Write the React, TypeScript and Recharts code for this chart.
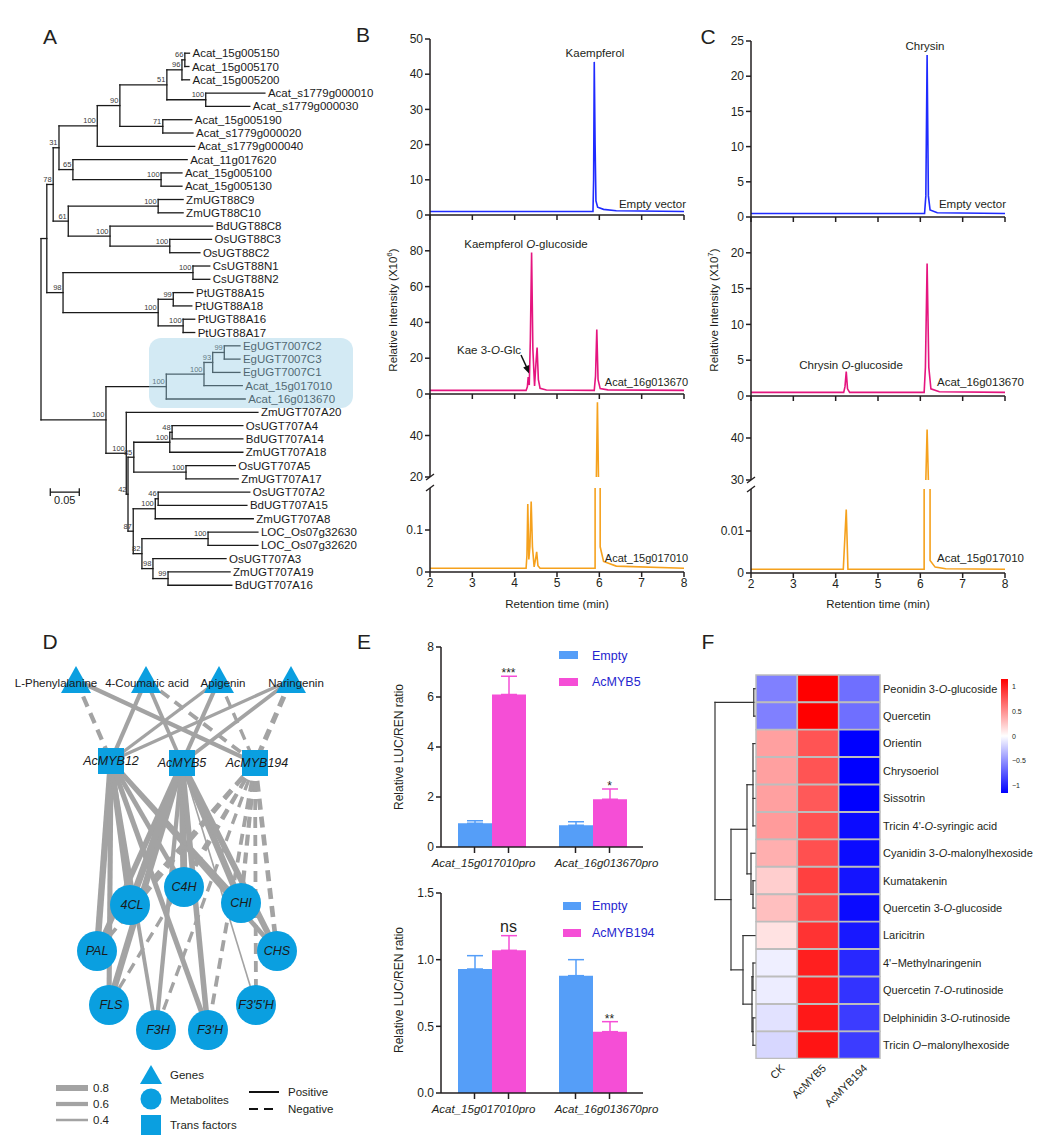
import React from 'react';
import {
  LineChart,
  Line,
  BarChart,
  Bar,
  ErrorBar,
  Cell,
  ScatterChart,
  Scatter,
  XAxis,
  YAxis,
  ReferenceLine,
  ReferenceDot,
} from 'recharts';

const FONT = '"Liberation Sans", Arial, Helvetica, sans-serif';
const INK = '#231f20';
const AXIS = { stroke: INK, strokeWidth: 1.5 };

/* ---------- A: UGT phylogeny (branch depths in substitutions/site) ---------- */
type TreeNode = { d: number; b?: string; name?: string; kids?: TreeNode[] };
const lf = (name: string, d: number): TreeNode => ({ name, d });
const cl = (d: number, b: string, ...kids: TreeNode[]): TreeNode => ({ d, b, kids });

const ugtTree = cl(0, '',
  cl(0.010, '',
    cl(0.021, '78',
      cl(0.031, '31',
        cl(0.097, '100',
          cl(0.136, '90',
            cl(0.217, '51',
              cl(0.243, '96',
                cl(0.248, '66', lf('Acat_15g005150', 0.256), lf('Acat_15g005170', 0.255)),
                lf('Acat_15g005200', 0.256)),
              cl(0.284, '100', lf('Acat_s1779g000010', 0.386), lf('Acat_s1779g000030', 0.360))),
            cl(0.210, '71', lf('Acat_15g005190', 0.260), lf('Acat_s1779g000020', 0.262))),
          lf('Acat_s1779g000040', 0.265)),
        cl(0.055, '65',
          lf('Acat_11g017620', 0.252),
          cl(0.207, '100', lf('Acat_15g005100', 0.243), lf('Acat_15g005130', 0.243)))),
      cl(0.047, '61',
        cl(0.202, '100', lf('ZmUGT88C9', 0.245), lf('ZmUGT88C10', 0.245)),
        cl(0.119, '100',
          lf('BdUGT88C8', 0.296),
          cl(0.222, '100', lf('OsUGT88C3', 0.294), lf('OsUGT88C2', 0.274))))),
    cl(0.038, '98',
      cl(0.262, '100', lf('CsUGT88N1', 0.291), lf('CsUGT88N2', 0.291)),
      cl(0.202, '100',
        cl(0.228, '99', lf('PtUGT88A15', 0.262), lf('PtUGT88A18', 0.260)),
        cl(0.245, '100', lf('PtUGT88A16', 0.265), lf('PtUGT88A17', 0.265))))),
  cl(0.112, '100',
    cl(0.216, '100',
      cl(0.281, '100',
        cl(0.296, '93',
          cl(0.316, '99', lf('EgUGT7007C2', 0.343), lf('EgUGT7007C3', 0.343)),
          lf('EgUGT7007C1', 0.343)),
        lf('Acat_15g017010', 0.347)),
      lf('Acat_16g013670', 0.352)),
    cl(0.147, '100',
      lf('ZmUGT707A20', 0.374),
      cl(0.150, '42',
        cl(0.160, '85',
          cl(0.222, '100',
            cl(0.226, '48', lf('OsUGT707A4', 0.348), lf('BdUGT707A14', 0.348)),
            lf('ZmUGT707A18', 0.348)),
          cl(0.250, '100', lf('OsUGT707A5', 0.335), lf('ZmUGT707A17', 0.340))),
        cl(0.159, '87',
          cl(0.197, '100',
            cl(0.202, '46', lf('OsUGT707A2', 0.360), lf('BdUGT707A15', 0.355)),
            lf('ZmUGT707A8', 0.366)),
          cl(0.174, '82',
            cl(0.288, '100', lf('LOC_Os07g32630', 0.374), lf('LOC_Os07g32620', 0.374)),
            cl(0.193, '98',
              lf('OsUGT707A3', 0.319),
              cl(0.219, '99', lf('ZmUGT707A19', 0.326), lf('BdUGT707A16', 0.329)))))))));

const SCALE_BAR = 0.05;

/* ---------- B & C: chromatograms [retention time, intensity] ---------- */
const retentionTicks = [2, 3, 4, 5, 6, 7, 8];

const kaempferolEmpty: [number, number][] = [
  [2, 1], [5.85, 1], [5.865, 10], [5.88, 43.5], [5.9, 20], [5.92, 4], [5.96, 2.2],
  [6.1, 1.6], [6.4, 1.2], [8, 1],
];
const kaempferol16g: [number, number][] = [
  [2, 2], [4.27, 2], [4.3, 4], [4.32, 9.5], [4.345, 5], [4.37, 30], [4.4, 79], [4.43, 25],
  [4.47, 4.5], [4.505, 18], [4.53, 26], [4.56, 8], [4.6, 3.2], [4.75, 2.2], [5.88, 2],
  [5.91, 10], [5.94, 36], [5.97, 8], [6.02, 3], [6.2, 2.3], [8, 2],
];
const kaempferol15g: [number, number][] = [
  [2, 0.009], [4.27, 0.009], [4.29, 0.04], [4.31, 0.162], [4.335, 0.03], [4.36, 0.06],
  [4.39, 0.168], [4.42, 0.06], [4.46, 0.012], [4.5, 0.035], [4.52, 0.048], [4.55, 0.015],
  [4.6, 0.009], [5.9, 0.009], [5.93, 20], [5.955, 56], [5.98, 20], [6.02, 0.06],
  [6.1, 0.025], [6.4, 0.014], [8, 0.009],
];
const chrysinEmpty: [number, number][] = [
  [2, 0.5], [6.1, 0.5], [6.13, 3], [6.16, 23], [6.19, 3], [6.23, 1], [6.4, 0.6], [8, 0.5],
];
const chrysin16g: [number, number][] = [
  [2, 0.5], [4.19, 0.5], [4.22, 1.3], [4.25, 3.4], [4.28, 1], [4.33, 0.5], [6.09, 0.5],
  [6.12, 4], [6.16, 18.5], [6.2, 4], [6.25, 1], [6.45, 0.6], [8, 0.5],
];
const chrysin15g: [number, number][] = [
  [2, 0.0009], [4.18, 0.0009], [4.25, 0.0151], [4.29, 0.0009], [6.09, 0.0009], [6.13, 30],
  [6.16, 42], [6.19, 30], [6.23, 0.003], [6.35, 0.0014], [6.6, 0.001], [8, 0.0009],
];

const TRACE_BLUE = '#1f2bff';
const TRACE_PINK = '#e5157f';
const TRACE_ORANGE = '#f5a11d';

const bSegs = [
  { top: 39, height: 176, domain: [0, 50], ticks: [0, 10, 20, 30, 40, 50], data: kaempferolEmpty, color: TRACE_BLUE, axis: 'ticks' },
  { top: 215, height: 179, domain: [0, 100], ticks: [0, 20, 40, 60, 80], data: kaempferol16g, color: TRACE_PINK, axis: 'ticks' },
  { top: 394, height: 83, domain: [20, 60], ticks: [20, 40], data: kaempferol15g, color: TRACE_ORANGE, axis: 'none' },
  { top: 488, height: 84, domain: [0, 0.2], ticks: [0, 0.1], data: kaempferol15g, color: TRACE_ORANGE, axis: 'labels' },
];
const cSegs = [
  { top: 41, height: 176, domain: [0, 25], ticks: [0, 5, 10, 15, 20, 25], data: chrysinEmpty, color: TRACE_BLUE, axis: 'ticks' },
  { top: 217, height: 179, domain: [0, 25], ticks: [0, 5, 10, 15, 20], data: chrysin16g, color: TRACE_PINK, axis: 'ticks' },
  { top: 396, height: 84, domain: [30, 50], ticks: [30, 40], data: chrysin15g, color: TRACE_ORANGE, axis: 'none' },
  { top: 489, height: 84, domain: [0, 0.02], ticks: [0, 0.01], data: chrysin15g, color: TRACE_ORANGE, axis: 'labels' },
];

/* ---------- D: correlation network ---------- */
const networkNodes = [
  { id: 'L-Phenylalanine', kind: 'gene', x: 76, y: 30, dx: -20 },
  { id: '4-Coumaric acid', kind: 'gene', x: 146, y: 30, dx: 1 },
  { id: 'Apigenin', kind: 'gene', x: 219, y: 30, dx: 4 },
  { id: 'Naringenin', kind: 'gene', x: 291, y: 30, dx: 5 },
  { id: 'AcMYB12', kind: 'tf', x: 111, y: 111, dx: 0 },
  { id: 'AcMYB5', kind: 'tf', x: 182, y: 113, dx: 0 },
  { id: 'AcMYB194', kind: 'tf', x: 255, y: 113, dx: 2 },
  { id: '4CL', kind: 'met', x: 130, y: 255, dx: 2 },
  { id: 'C4H', kind: 'met', x: 184, y: 237, dx: 0 },
  { id: 'CHI', kind: 'met', x: 241, y: 253, dx: 0 },
  { id: 'PAL', kind: 'met', x: 97, y: 301, dx: 0 },
  { id: 'CHS', kind: 'met', x: 277, y: 301, dx: 0 },
  { id: 'FLS', kind: 'met', x: 109, y: 355, dx: 2 },
  { id: "F3'5'H", kind: 'met', x: 256, y: 355, dx: 0 },
  { id: 'F3H', kind: 'met', x: 156, y: 380, dx: 2 },
  { id: "F3'H", kind: 'met', x: 208, y: 380, dx: 2 },
];
// [source, target, |r|, negative]
const networkEdges: [string, string, number, boolean][] = [
  ['L-Phenylalanine', 'AcMYB12', 0.6, true],
  ['L-Phenylalanine', 'AcMYB194', 0.6, false],
  ['4-Coumaric acid', 'AcMYB12', 0.6, false],
  ['4-Coumaric acid', 'AcMYB5', 0.55, false],
  ['4-Coumaric acid', 'AcMYB194', 0.55, true],
  ['Apigenin', 'AcMYB12', 0.5, false],
  ['Apigenin', 'AcMYB5', 0.6, false],
  ['Apigenin', 'AcMYB194', 0.5, true],
  ['Naringenin', 'AcMYB12', 0.5, false],
  ['Naringenin', 'AcMYB5', 0.55, false],
  ['Naringenin', 'AcMYB194', 0.7, true],
  ['AcMYB12', 'PAL', 0.85, false],
  ['AcMYB12', 'FLS', 0.7, false],
  ['AcMYB12', '4CL', 0.8, false],
  ['AcMYB12', 'C4H', 0.65, false],
  ['AcMYB12', 'F3H', 0.55, false],
  ['AcMYB12', "F3'H", 0.7, false],
  ['AcMYB12', 'CHI', 0.6, false],
  ['AcMYB12', 'CHS', 0.65, false],
  ['AcMYB5', 'PAL', 0.75, false],
  ['AcMYB5', 'FLS', 0.85, false],
  ['AcMYB5', '4CL', 0.9, false],
  ['AcMYB5', 'C4H', 0.9, false],
  ['AcMYB5', 'CHI', 0.85, false],
  ['AcMYB5', 'CHS', 0.8, false],
  ['AcMYB5', 'F3H', 0.6, false],
  ['AcMYB5', "F3'H", 0.75, false],
  ['AcMYB5', "F3'5'H", 0.3, false],
  ['AcMYB194', 'PAL', 0.55, true],
  ['AcMYB194', '4CL', 0.6, true],
  ['AcMYB194', 'C4H', 0.5, true],
  ['AcMYB194', 'CHI', 0.6, true],
  ['AcMYB194', 'CHS', 0.65, true],
  ['AcMYB194', 'FLS', 0.5, true],
  ['AcMYB194', 'F3H', 0.5, true],
  ['AcMYB194', "F3'H", 0.55, true],
  ['AcMYB194', "F3'5'H", 0.55, true],
];
const EDGE = '#a3a3a3';
const NODE = '#0a9fe0';
const edgeWidth = (r: number) => 2.5 + (r - 0.4) * 8.75;

/* ---------- E: dual luciferase ---------- */
const promoters = ['Acat_15g017010pro', 'Acat_16g013670pro'];
const lucEmptyA = [0.95, 0.87];
const lucEmptyAErr = [0.1, 0.14];
const lucMyb5 = [6.1, 1.91];
const lucMyb5Err = [0.73, 0.41];
const lucMyb5Sig = ['***', '*'];
const lucEmptyB = [0.93, 0.88];
const lucEmptyBErr = [0.1, 0.12];
const lucMyb194 = [1.07, 0.46];
const lucMyb194Err = [0.11, 0.075];
const lucMyb194Sig = ['ns', '**'];
const LUC_BLUE = '#559ef8';
const LUC_PINK = '#f54ed6';

/* ---------- F: heatmap ---------- */
const metabolites = [
  'Peonidin 3-O-glucoside', 'Quercetin', 'Orientin', 'Chrysoeriol', 'Sissotrin',
  "Tricin 4'-O-syringic acid", 'Cyanidin 3-O-malonylhexoside', 'Kumatakenin',
  'Quercetin 3-O-glucoside', 'Laricitrin', "4'\u2212Methylnaringenin",
  'Quercetin 7-O-rutinoside', 'Delphinidin 3-O-rutinoside', 'Tricin O\u2212malonylhexoside',
];
const heatSamples = ['CK', 'AcMYB5', 'AcMYB194'];
const zCK = [-0.575, -0.575, 0.43, 0.43, 0.43, 0.45, 0.36, 0.22, 0.29, 0.13, -0.07, -0.08, -0.13, -0.18];
const zMYB5 = [1.15, 1.15, 0.77, 0.77, 0.75, 0.78, 0.79, 0.86, 0.83, 0.92, 1.01, 1.01, 1.04, 1.06];
const zMYB194 = [-0.65, -0.65, -1.15, -1.15, -1.15, -1.1, -1.1, -1.06, -1.1, -1.04, -0.97, -0.92, -0.88, -0.88];
const colorbarTicks = [1, 0.5, 0, -0.5, -1];
const Z_MAX = 1.15;

const mL = (i: number) => lf(metabolites[i], 0);
const metaboliteTree = cl(1.0, '',
  cl(0.03, '', mL(0), mL(1)),
  cl(0.6, '',
    cl(0.2, '',
      cl(0.05, '', mL(2), mL(3), mL(4), mL(5)),
      cl(0.1, '', mL(6), cl(0.05, '', mL(7), mL(8)))),
    cl(0.3, '',
      mL(9),
      cl(0.075, '', cl(0.05, '', mL(10), mL(11)), cl(0.05, '', mL(12), mL(13))))));

/* ---------- helpers ---------- */
function layoutTree(root: TreeNode) {
  const leaves: any[] = [];
  const nodes: any[] = [];
  const segs: any[] = [];
  let idx = 0;
  const walk = (n: TreeNode): number => {
    if (!n.kids) {
      const y = idx++;
      leaves.push({ x: n.d, y, name: n.name });
      return y;
    }
    const ys = n.kids.map(walk);
    const y = (ys[0] + ys[ys.length - 1]) / 2;
    segs.push({ x1: n.d, y1: ys[0], x2: n.d, y2: ys[ys.length - 1] });
    n.kids.forEach((k, i) => segs.push({ x1: n.d, y1: ys[i], x2: k.d, y2: ys[i] }));
    if (n.b) nodes.push({ x: n.d, y, b: n.b });
    return y;
  };
  walk(root);
  return { leaves, nodes, segs };
}

const heatColor = (v: number) => {
  const t = Math.max(-1, Math.min(1, v / Z_MAX));
  const c = Math.round(255 * (1 - Math.abs(t)));
  return t >= 0 ? `rgb(255,${c},${c})` : `rgb(${c},${c},255)`;
};

const italicO = (label: string) =>
  label.split(/(\bO(?=[-\u2212]))/).map((s, i) =>
    s === 'O' ? <tspan key={i} fontStyle="italic">O</tspan> : <tspan key={i}>{s}</tspan>
  );

/* ---------- A ---------- */
const ugtLayout = layoutTree(ugtTree);

const LeafLabel = (p: any) => (
  <text x={p.cx + 3} y={p.cy} dy="0.35em" fontSize={11.5} fill="#1a1a1a" fontFamily={FONT}>
    {p.payload.name}
  </text>
);
const BootLabel = (p: any) => (
  <text x={p.cx - 1.5} y={p.cy - 2.5} textAnchor="end" fontSize={7.5} fill="#3a3a3a" fontFamily={FONT}>
    {p.payload.b}
  </text>
);

function PanelA() {
  const { leaves, nodes, segs } = ugtLayout;
  const sx = 0.016;
  const sy = 33;
  return (
    <>
      <div style={{ position: 'absolute', left: 0, top: 0 }}>
        <ScatterChart width={390} height={600} margin={{ top: 0, right: 0, bottom: 0, left: 0 }}>
          <XAxis type="number" dataKey="x" domain={[-0.0707, 0.6017]} hide allowDataOverflow />
          <YAxis type="number" dataKey="y" domain={[-4, 41.11]} reversed hide allowDataOverflow />
          {segs.map((s, i) => (
            <ReferenceLine
              key={i}
              segment={[{ x: s.x1, y: s.y1 }, { x: s.x2, y: s.y2 }]}
              stroke="#1a1a1a"
              strokeWidth={1.3}
              strokeLinecap="square"
              ifOverflow="visible"
            />
          ))}
          <ReferenceLine segment={[{ x: sx, y: sy }, { x: sx + SCALE_BAR, y: sy }]} stroke="#1a1a1a" strokeWidth={1.3} ifOverflow="visible" />
          <ReferenceLine segment={[{ x: sx, y: sy - 0.3 }, { x: sx, y: sy + 0.3 }]} stroke="#1a1a1a" strokeWidth={1.3} ifOverflow="visible" />
          <ReferenceLine segment={[{ x: sx + SCALE_BAR, y: sy - 0.3 }, { x: sx + SCALE_BAR, y: sy + 0.3 }]} stroke="#1a1a1a" strokeWidth={1.3} ifOverflow="visible" />
          <ReferenceDot
            x={sx + SCALE_BAR / 2}
            y={sy}
            r={0}
            ifOverflow="visible"
            shape={(p: any) => (
              <text x={p.cx} y={p.cy + 12} textAnchor="middle" fontSize={11} fill="#1a1a1a" fontFamily={FONT}>
                {String(SCALE_BAR)}
              </text>
            )}
          />
          <Scatter data={leaves} shape={LeafLabel} isAnimationActive={false} />
          <Scatter data={nodes} shape={BootLabel} isAnimationActive={false} />
        </ScatterChart>
      </div>
      <div
        style={{
          position: 'absolute',
          left: 149,
          top: 338,
          width: 204,
          height: 70,
          borderRadius: 12,
          background: 'rgba(150, 205, 228, 0.42)',
        }}
      />
    </>
  );
}

/* ---------- B / C ---------- */
function Trace({ left, top, height, domain, ticks, data, color, axis }: any) {
  const padL = 60;
  const padT = 8;
  const padR = 14;
  const padB = axis === 'none' ? 8 : 0;
  const width = 254;
  const axisH = axis === 'labels' ? 24 : axis === 'ticks' ? 6 : 0;
  const rows = data.map(([t, v]: [number, number]) => ({ t, v }));
  return (
    <div style={{ position: 'absolute', left: left - padL, top: top - padT }}>
      <LineChart
        width={width + padL + padR}
        height={height + padT + axisH + padB}
        data={rows}
        margin={{ top: padT, right: padR, bottom: padB, left: 0 }}
      >
        <XAxis
          type="number"
          dataKey="t"
          domain={[2, 8]}
          ticks={retentionTicks}
          interval={0}
          hide={axis === 'none'}
          height={axisH}
          tickSize={5}
          tickMargin={1}
          axisLine={AXIS}
          tickLine={AXIS}
          tick={{ fontSize: 12, fill: INK, fontFamily: FONT }}
          tickFormatter={axis === 'labels' ? (v: number) => String(v) : () => ''}
          allowDataOverflow
        />
        <YAxis
          type="number"
          domain={domain}
          ticks={ticks}
          interval={0}
          width={padL}
          tickSize={5}
          tickMargin={2}
          axisLine={AXIS}
          tickLine={AXIS}
          tick={{ fontSize: 12, fill: INK, fontFamily: FONT }}
          allowDataOverflow
        />
        <Line type="linear" dataKey="v" stroke={color} strokeWidth={1.6} dot={false} isAnimationActive={false} />
      </LineChart>
    </div>
  );
}

function ChromStack({ left, segs }: { left: number; segs: any[] }) {
  return (
    <>
      {segs.map((s, i) => (
        <Trace key={i} left={left} {...s} />
      ))}
    </>
  );
}

/* ---------- D ---------- */
const nodeById: Record<string, any> = Object.fromEntries(networkNodes.map((n) => [n.id, n]));

const NetworkNode = (p: any) => {
  const { cx, cy, payload: n } = p;
  let mark;
  if (n.kind === 'gene') {
    mark = <polygon points={`${cx},${cy - 14} ${cx - 15},${cy + 13} ${cx + 15},${cy + 13}`} fill={NODE} />;
  } else if (n.kind === 'tf') {
    mark = <rect x={cx - 13} y={cy - 13} width={26} height={26} fill={NODE} />;
  } else {
    mark = <circle cx={cx} cy={cy} r={20} fill={NODE} />;
  }
  return (
    <g>
      {mark}
      <text
        x={cx + (n.dx || 0)}
        y={n.kind === 'gene' ? cy + 3 : cy}
        dy="0.35em"
        textAnchor="middle"
        fontSize={n.kind === 'gene' ? 11.5 : 12.5}
        fontStyle={n.kind === 'gene' ? 'normal' : 'italic'}
        fill="#1a1a1a"
        fontFamily={FONT}
      >
        {n.id}
      </text>
    </g>
  );
};

function PanelD() {
  return (
    <div style={{ position: 'absolute', left: 0, top: 650 }}>
      <ScatterChart width={360} height={410} margin={{ top: 0, right: 0, bottom: 0, left: 0 }}>
        <XAxis type="number" dataKey="x" domain={[0, 360]} hide />
        <YAxis type="number" dataKey="y" domain={[0, 410]} reversed hide />
        {networkEdges.map(([a, b, r, neg], i) => (
          <Scatter
            key={i}
            data={[nodeById[a], nodeById[b]]}
            line={{ stroke: EDGE, strokeWidth: edgeWidth(r), strokeDasharray: neg ? '11 7' : 'none' }}
            shape={() => <g />}
            isAnimationActive={false}
          />
        ))}
        <Scatter data={networkNodes} shape={NetworkNode} isAnimationActive={false} />
      </ScatterChart>
    </div>
  );
}

/* ---------- E ---------- */
const promoterLabelShift = [-8, 14];

const PromoterTick = (p: any) => {
  const { x, y, payload, index } = p;
  return (
    <g>
      <line x1={x - 17} y1={y - 6} x2={x - 17} y2={y} stroke={INK} strokeWidth={1.5} />
      <line x1={x + 17} y1={y - 6} x2={x + 17} y2={y} stroke={INK} strokeWidth={1.5} />
      <text
        x={x + (promoterLabelShift[index] ?? 0)}
        y={y + 14}
        textAnchor="middle"
        fontStyle="italic"
        fontSize={11.5}
        fill={INK}
        fontFamily={FONT}
      >
        {payload.value}
      </text>
    </g>
  );
};

function LucChart({ top, domain, ticks, fmt, empty, emptyErr, tf, tfErr, sig }: any) {
  const rows = promoters.map((name, i) => ({
    name,
    empty: empty[i],
    emptyErr: [0, emptyErr[i]],
    tf: tf[i],
    tfErr: [0, tfErr[i]],
  }));
  return (
    <div style={{ position: 'absolute', left: 360, top }}>
      <BarChart
        width={330}
        height={247}
        data={rows}
        margin={{ top: 17, right: 47, bottom: 0, left: 21 }}
        barGap={0}
        barSize={34}
      >
        <XAxis
          dataKey="name"
          height={30}
          axisLine={AXIS}
          tickLine={false}
          tickSize={6}
          tickMargin={0}
          interval={0}
          tick={PromoterTick}
        />
        <YAxis
          domain={domain}
          ticks={ticks}
          interval={0}
          width={60}
          tickFormatter={fmt}
          axisLine={AXIS}
          tickLine={AXIS}
          tickSize={5}
          tickMargin={2}
          tick={{ fontSize: 12, fill: INK, fontFamily: FONT }}
          allowDataOverflow
        />
        <Bar dataKey="empty" fill={LUC_BLUE} isAnimationActive={false}>
          <ErrorBar dataKey="emptyErr" width={8} stroke={LUC_BLUE} strokeWidth={1.5} direction="y" />
        </Bar>
        <Bar dataKey="tf" fill={LUC_PINK} isAnimationActive={false}>
          <ErrorBar dataKey="tfErr" width={8} stroke={LUC_PINK} strokeWidth={1.5} direction="y" />
        </Bar>
        {rows.map((r, i) => (
          <ReferenceDot
            key={i}
            x={r.name}
            y={r.tf + tfErr[i]}
            r={0}
            ifOverflow="visible"
            shape={(p: any) => (
              <text
                x={p.cx + 17}
                y={sig[i] === 'ns' ? p.cy - 4 : p.cy + 1}
                textAnchor="middle"
                fontSize={sig[i] === 'ns' ? 16 : 12}
                fill={INK}
                fontFamily={FONT}
              >
                {sig[i]}
              </text>
            )}
          />
        ))}
      </BarChart>
    </div>
  );
}

/* ---------- F ---------- */
const heatRows = metabolites.map((name) => ({ name, CK: 1, AcMYB5: 1, AcMYB194: 1 }));
const heatZ = [zCK, zMYB5, zMYB194];
const dendroLayout = layoutTree(metaboliteTree);

const MetaboliteTick = (p: any) => (
  <text x={p.x} y={p.y} dy="0.35em" fontSize={11} fill={INK} fontFamily={FONT} style={{ whiteSpace: 'pre' }}>
    {italicO(String(p.payload.value))}
  </text>
);

function PanelF() {
  return (
    <>
      <div style={{ position: 'absolute', left: 700, top: 660 }}>
        <BarChart
          layout="vertical"
          width={338}
          height={399}
          data={heatRows}
          margin={{ top: 15, right: 8, bottom: 0, left: 56 }}
          barCategoryGap={0}
          barGap={0}
        >
          <XAxis type="number" domain={[0, 3]} hide />
          <YAxis
            type="category"
            dataKey="name"
            orientation="right"
            width={150}
            axisLine={false}
            tickLine={false}
            tickSize={0}
            tickMargin={3}
            interval={0}
            tick={MetaboliteTick}
          />
          {heatSamples.map((s, ci) => (
            <Bar key={s} dataKey={s} stackId="z" isAnimationActive={false}>
              {heatRows.map((_, ri) => (
                <Cell key={ri} fill={heatColor(heatZ[ci][ri])} stroke="#bdbdbd" strokeWidth={1.5} />
              ))}
            </Bar>
          ))}
        </BarChart>
      </div>
      <div style={{ position: 'absolute', left: 700, top: 660 }}>
        <ScatterChart width={60} height={399} margin={{ top: 15, right: 0, bottom: 0, left: 0 }}>
          <XAxis type="number" dataKey="x" domain={[-0.125, 1.375]} reversed hide />
          <YAxis type="number" dataKey="y" domain={[-0.5, 13.5]} reversed hide />
          {dendroLayout.segs.map((s, i) => (
            <ReferenceLine
              key={i}
              segment={[{ x: s.x1, y: s.y1 }, { x: s.x2, y: s.y2 }]}
              stroke="#333"
              strokeWidth={1.2}
              strokeLinecap="square"
              ifOverflow="visible"
            />
          ))}
          <Scatter data={dendroLayout.leaves} shape={() => <g />} isAnimationActive={false} />
        </ScatterChart>
      </div>
    </>
  );
}

/* ---------- text and legends ---------- */
function Overlay() {
  const heatLeft = 756;
  const cellW = 124 / 3;
  const cbTop = 679;
  const cbH = 114;
  const cbY = (v: number) => cbTop + ((Z_MAX - v) / (2 * Z_MAX)) * cbH;
  const t = (x: number, y: number, s: any, size = 11.5, anchor = 'start', extra: any = {}) => (
    <text x={x} y={y} fontSize={size} textAnchor={anchor} dominantBaseline="central" fill={INK} {...extra}>
      {s}
    </text>
  );
  return (
    <svg
      width={1038}
      height={1147}
      style={{ position: 'absolute', left: 0, top: 0, pointerEvents: 'none', fontFamily: FONT }}
    >
      <defs>
        <linearGradient id="zbar" x1="0" y1="0" x2="0" y2="1">
          <stop offset="0" stopColor="#ff0000" />
          <stop offset="0.5" stopColor="#ffffff" />
          <stop offset="1" stopColor="#0000ff" />
        </linearGradient>
      </defs>

      {/* panel letters */}
      {t(50, 36, 'A', 21, 'middle')}
      {t(363, 34, 'B', 21, 'middle')}
      {t(708, 36, 'C', 21, 'middle')}
      {t(50, 641, 'D', 21, 'middle')}
      {t(364, 641, 'E', 21, 'middle')}
      {t(708, 641, 'F', 21, 'middle')}

      {/* B */}
      {t(595, 53, 'Kaempferol', 11.5, 'middle')}
      {t(686, 204, 'Empty vector', 11.5, 'end')}
      {t(526, 244, <>Kaempferol <tspan fontStyle="italic">O</tspan>-glucoside</>, 11.5, 'middle')}
      {t(489, 350, <>Kae 3-<tspan fontStyle="italic">O</tspan>-Glc</>, 11.5, 'middle')}
      <line x1={521} y1={355} x2={527} y2={368} stroke="#111" strokeWidth={1.5} />
      <polygon points="529,373.5 523.2,367.5 529.2,365" fill="#111" />
      {t(688, 382, 'Acat_16g013670', 11, 'end')}
      {t(688, 558, 'Acat_15g017010', 11, 'end')}
      <text x={0} y={0} fontSize={11.5} textAnchor="middle" dominantBaseline="central" fill={INK} transform="translate(393,310) rotate(-90)">
        Relative Intensity (X10<tspan fontSize={8} dy={-4}>6</tspan><tspan dy={4}>)</tspan>
      </text>
      {t(557, 604, 'Retention time (min)', 11.5, 'middle')}
      <line x1={426} y1={480} x2={434} y2={474} stroke={INK} strokeWidth={1.3} />
      <line x1={426} y1={491} x2={434} y2={485} stroke={INK} strokeWidth={1.3} />

      {/* C */}
      {t(925, 46, 'Chrysin', 11.5, 'middle')}
      {t(1006, 204, 'Empty vector', 11.5, 'end')}
      {t(851, 365, <>Chrysin <tspan fontStyle="italic">O</tspan>-glucoside</>, 11.5, 'middle')}
      {t(937, 382, 'Acat_16g013670', 11.5, 'start')}
      {t(937, 558, 'Acat_15g017010', 11.5, 'start')}
      <text x={0} y={0} fontSize={11.5} textAnchor="middle" dominantBaseline="central" fill={INK} transform="translate(714,310) rotate(-90)">
        Relative Intensity (X10<tspan fontSize={8} dy={-4}>7</tspan><tspan dy={4}>)</tspan>
      </text>
      {t(878, 604, 'Retention time (min)', 11.5, 'middle')}
      <line x1={747} y1={483} x2={755} y2={477} stroke={INK} strokeWidth={1.3} />
      <line x1={747} y1={492} x2={755} y2={486} stroke={INK} strokeWidth={1.3} />

      {/* D legend */}
      <line x1={56} y1={1088} x2={88} y2={1088} stroke={EDGE} strokeWidth={edgeWidth(0.8)} />
      <line x1={56} y1={1104} x2={88} y2={1104} stroke={EDGE} strokeWidth={edgeWidth(0.6)} />
      <line x1={56} y1={1120} x2={88} y2={1120} stroke={EDGE} strokeWidth={edgeWidth(0.4)} />
      {t(93, 1088, '0.8')}
      {t(93, 1104, '0.6')}
      {t(93, 1120, '0.4')}
      <polygon points="151,1065 140,1084 162,1084" fill={NODE} />
      <circle cx={151} cy={1099} r={10.5} fill={NODE} />
      <rect x={141} y={1115} width={20} height={20} fill={NODE} />
      {t(170, 1075, 'Genes')}
      {t(170, 1100, 'Metabolites')}
      {t(170, 1125, 'Trans factors')}
      <line x1={249} y1={1092} x2={279} y2={1092} stroke="#111" strokeWidth={2} />
      <line x1={249} y1={1109} x2={279} y2={1109} stroke="#111" strokeWidth={2} strokeDasharray="9 6" />
      {t(288, 1092, 'Positive')}
      {t(288, 1109, 'Negative')}

      {/* E */}
      <text x={0} y={0} fontSize={12} textAnchor="middle" dominantBaseline="central" fill={INK} transform="translate(399,747) rotate(-90)">
        Relative LUC/REN ratio
      </text>
      <text x={0} y={0} fontSize={12} textAnchor="middle" dominantBaseline="central" fill={INK} transform="translate(399,990) rotate(-90)">
        Relative LUC/REN ratio
      </text>
      <rect x={559} y={651} width={19} height={8} fill={LUC_BLUE} />
      <rect x={559} y={678} width={19} height={8} fill={LUC_PINK} />
      {t(592, 655.5, 'Empty', 12.5, 'start', { fill: '#2525cf' })}
      {t(592, 682, 'AcMYB5', 12.5, 'start', { fill: '#2525cf' })}
      <rect x={563} y={902} width={18} height={8} fill={LUC_BLUE} />
      <rect x={563} y={929} width={18} height={8} fill={LUC_PINK} />
      {t(592, 906, 'Empty', 12.5, 'start', { fill: '#2525cf' })}
      {t(592, 933, 'AcMYB194', 12.5, 'start', { fill: '#2525cf' })}

      {/* F colour bar and column labels */}
      <rect x={1001} y={cbTop} width={7} height={cbH} fill="url(#zbar)" />
      {colorbarTicks.map((v) => (
        <text key={v} x={1012} y={cbY(v)} fontSize={7} dominantBaseline="central" fill={INK}>
          {String(v).replace('-', '\u2212')}
        </text>
      ))}
      {heatSamples.map((s, i) => {
        const cx = heatLeft + cellW * (i + 0.5) + 6;
        return (
          <text key={s} x={0} y={0} fontSize={11} textAnchor="end" dominantBaseline="central" fill={INK} transform={`translate(${cx},1066) rotate(-45)`}>
            {s}
          </text>
        );
      })}
    </svg>
  );
}

export default function App() {
  return (
    <div
      style={{
        position: 'absolute',
        left: 0,
        top: 0,
        width: 1038,
        height: 1147,
        background: '#fff',
        fontFamily: FONT,
        color: INK,
        overflow: 'hidden',
      }}
    >
      <PanelA />
      <ChromStack left={430} segs={bSegs} />
      <ChromStack left={751} segs={cSegs} />
      <PanelD />
      <LucChart
        top={630}
        domain={[0, 8]}
        ticks={[0, 2, 4, 6, 8]}
        fmt={(v: number) => String(v)}
        empty={lucEmptyA}
        emptyErr={lucEmptyAErr}
        tf={lucMyb5}
        tfErr={lucMyb5Err}
        sig={lucMyb5Sig}
      />
      <LucChart
        top={876}
        domain={[0, 1.5]}
        ticks={[0, 0.5, 1, 1.5]}
        fmt={(v: number) => v.toFixed(1)}
        empty={lucEmptyB}
        emptyErr={lucEmptyBErr}
        tf={lucMyb194}
        tfErr={lucMyb194Err}
        sig={lucMyb194Sig}
      />
      <PanelF />
      <Overlay />
    </div>
  );
}
